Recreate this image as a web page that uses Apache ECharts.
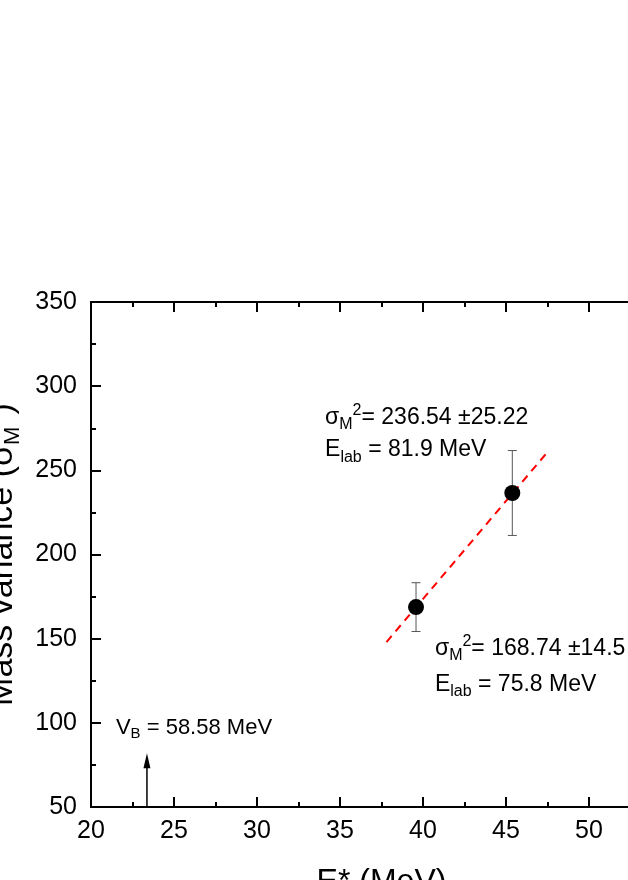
<!DOCTYPE html>
<html>
<head>
<meta charset="utf-8">
<script src="https://cdn.jsdelivr.net/npm/echarts@6/dist/echarts.min.js"></script>
<style>
  html, body { margin: 0; padding: 0; background: #fff; }
  #chart { width: 628px; height: 880px; }
</style>
</head>
<body>
<div id="chart"></div>
<script>
// 数据点: 激发能 E* (MeV) 与质量方差
const excitation = [39.58, 45.38];
const massVariance = [168.74, 236.54];
const variantErr = [14.5, 25.22];
const labEnergy = [75.8, 81.9];

// 线性拟合虚线端点
const fitX = [37.8, 47.6];
const fitY = [148, 262];

// 库仑势垒箭头 (x, 起点 y, 终点 y)
const barrierArrow = [23.37, 50, 82];
const barrierEnergy = 58.58;

// 坐标轴刻度
const xTicks = [20, 25, 30, 35, 40, 45, 50, 55];
const yTicks = [50, 100, 150, 200, 250, 300, 350];

const FONT = '"Liberation Sans", Arial, sans-serif';

// 标注文字位置（数据坐标，左侧居中）
const noteAnchors = [
    { x: 34.1, y: 281.5, line: 'var', i: 1 },
    { x: 34.1, y: 262, line: 'lab', i: 1 },
    { x: 40.72, y: 144, line: 'var', i: 0 },
    { x: 40.72, y: 122.6, line: 'lab', i: 0 },
    { x: 21.5, y: 97.2, line: 'vb' }
];

function noteText(a) {
    if (a.line === 'var') {
        return '{n|σ}{sub|M}{sup|2}{n|= ' + massVariance[a.i].toFixed(2) + ' ±' + variantErr[a.i] + '}';
    }
    if (a.line === 'lab') {
        return '{n|E}{sub|lab}{n| = ' + labEnergy[a.i] + ' MeV}';
    }
    return '{s|V}{ssub|B}{s| = ' + barrierEnergy + ' MeV}';
}

const richStyle = {
    n: { fontSize: 23, fontFamily: FONT, color: '#000', lineHeight: 30 },
    sub: { fontSize: 16, fontFamily: FONT, color: '#000', lineHeight: 15, verticalAlign: 'bottom' },
    sup: { fontSize: 16, fontFamily: FONT, color: '#000', lineHeight: 15, verticalAlign: 'top' },
    s: { fontSize: 22, fontFamily: FONT, color: '#000', lineHeight: 28 },
    ssub: { fontSize: 15, fontFamily: FONT, color: '#000', lineHeight: 14, verticalAlign: 'bottom' }
};

const chart = echarts.init(document.getElementById('chart'));

function axisBase(pos, min, max, interval, showLabel) {
    return {
        type: 'value',
        position: pos,
        min: min,
        max: max,
        interval: interval,
        axisLine: { show: true, onZero: false, lineStyle: { color: '#000', width: 2 } },
        axisTick: { show: true, inside: true, length: 10, lineStyle: { color: '#000', width: 2 } },
        minorTick: { show: true, splitNumber: 2, length: 5, lineStyle: { color: '#000', width: 2 } },
        splitLine: { show: false },
        minorSplitLine: { show: false },
        axisLabel: {
            show: showLabel,
            fontSize: 25,
            fontFamily: FONT,
            color: '#000',
            margin: 14
        }
    };
}

const xBottom = axisBase('bottom', xTicks[0], xTicks[xTicks.length - 1], 5, true);
xBottom.axisLabel.margin = 12;
xBottom.name = 'E* (MeV)';
xBottom.nameLocation = 'middle';
xBottom.nameGap = 59;
xBottom.nameTextStyle = { fontSize: 32, fontFamily: FONT, color: '#000' };

const yLeft = axisBase('left', yTicks[0], yTicks[yTicks.length - 1], 50, true);
yLeft.name = '{t|Mass variance (σ}{ts|M}{tp|2}{t|)}';
yLeft.nameLocation = 'middle';
yLeft.nameGap = 66;
yLeft.nameTextStyle = {
    fontSize: 34,
    fontFamily: FONT,
    color: '#000',
    rich: {
        t: { fontSize: 34, fontFamily: FONT, color: '#000', lineHeight: 44 },
        ts: { fontSize: 22, fontFamily: FONT, color: '#000', lineHeight: 20, verticalAlign: 'bottom' },
        tp: { fontSize: 22, fontFamily: FONT, color: '#000', lineHeight: 20, verticalAlign: 'top' }
    }
};

const option = {
    animation: false,
    backgroundColor: '#fff',
    grid: {
        left: 91,
        top: 302,
        width: 581,
        height: 505,
        outerBoundsMode: 'none',
        containLabel: false
    },
    xAxis: [xBottom, axisBase('top', xTicks[0], xTicks[xTicks.length - 1], 5, false)],
    yAxis: [yLeft, axisBase('right', yTicks[0], yTicks[yTicks.length - 1], 50, false)],
    series: [
        {
            // 误差棒
            type: 'custom',
            xAxisIndex: 0,
            yAxisIndex: 0,
            data: excitation.map((x, i) => [x, massVariance[i] - variantErr[i], massVariance[i] + variantErr[i]]),
            renderItem: function(params, api) {
                const lo = api.coord([api.value(0), api.value(1)]);
                const hi = api.coord([api.value(0), api.value(2)]);
                const cap = 4.5;
                const style = { stroke: '#555', lineWidth: 1 };
                return {
                    type: 'group',
                    children: [
                        { type: 'line', shape: { x1: lo[0], y1: lo[1], x2: hi[0], y2: hi[1] }, style: style },
                        { type: 'line', shape: { x1: lo[0] - cap, y1: lo[1], x2: lo[0] + cap, y2: lo[1] }, style: style },
                        { type: 'line', shape: { x1: hi[0] - cap, y1: hi[1], x2: hi[0] + cap, y2: hi[1] }, style: style }
                    ]
                };
            },
            z: 2
        },
        {
            // 拟合线
            type: 'line',
            data: fitX.map((x, i) => [x, fitY[i]]),
            showSymbol: false,
            lineStyle: { color: '#ff0000', width: 2, type: [8, 6] },
            z: 3
        },
        {
            type: 'scatter',
            data: excitation.map((x, i) => [x, massVariance[i]]),
            symbol: 'circle',
            symbolSize: 16,
            itemStyle: { color: '#000', opacity: 1 },
            z: 4
        },
        {
            // V_B 箭头
            type: 'custom',
            data: [barrierArrow],
            renderItem: function(params, api) {
                const p0 = api.coord([api.value(0), api.value(1)]);
                const p1 = api.coord([api.value(0), api.value(2)]);
                const headH = 15, headW = 3.5;
                return {
                    type: 'group',
                    children: [
                        { type: 'line', shape: { x1: p0[0], y1: p0[1], x2: p1[0], y2: p1[1] + headH - 2 },
                          style: { stroke: '#000', lineWidth: 1.5 } },
                        { type: 'polygon', shape: { points: [[p1[0], p1[1]], [p1[0] - headW, p1[1] + headH], [p1[0] + headW, p1[1] + headH]] },
                          style: { fill: '#000' } }
                    ]
                };
            },
            z: 4
        },
        {
            // 标注文字
            type: 'scatter',
            symbolSize: 0,
            silent: true,
            itemStyle: { opacity: 1 },
            label: { fontSize: 23, fontFamily: FONT, color: '#000' },
            data: noteAnchors.map(a => ({
                value: [a.x, a.y],
                label: {
                    show: true,
                    position: 'right',
                    distance: 0,
                    color: '#000',
                    fontSize: 23,
                    fontFamily: FONT,
                    formatter: noteText(a),
                    rich: richStyle
                }
            })),
            z: 5
        }
    ]
};

chart.setOption(option);
</script>
</body>
</html>
